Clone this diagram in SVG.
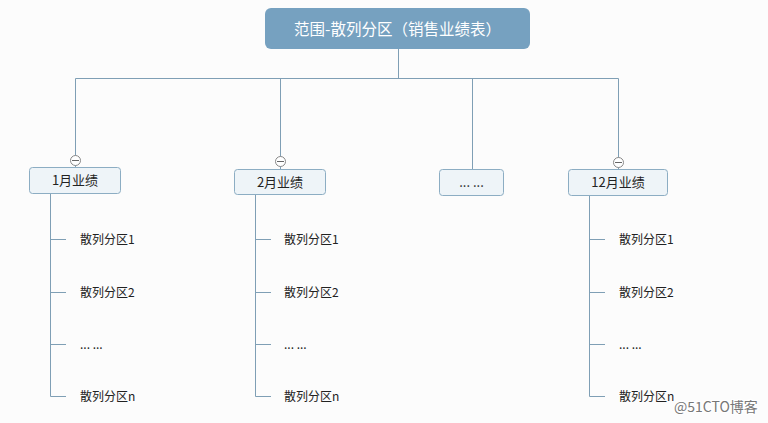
<svg xmlns="http://www.w3.org/2000/svg" width="768" height="423" viewBox="0 0 768 423">
<style>
.ln{stroke:#7f9fb5;stroke-width:1;fill:none}
.nd{fill:#eef4f8;stroke:#8cadc3;stroke-width:1}
.nt{font-family:"Noto Sans CJK SC","Liberation Sans",sans-serif;font-size:13px;fill:#222;text-anchor:middle}
.ct{font-family:"Noto Sans CJK SC","Liberation Sans",sans-serif;font-size:12px;fill:#222}
.cc{fill:#fff;stroke:#888;stroke-width:1}
</style>
<rect width="768" height="423" fill="#fcfcfc"/>
<g id="connectors">
<path class="ln" d="M398.5 49V78.5M75.5 78.5H618.5M75.5 78.5V167M280.5 78.5V169M472.5 78.5V169M618.5 78.5V169"/>
<path class="ln" d="M50.5 193V396.5H66M50.5 239.5H66M50.5 292.5H66M50.5 344.5H66"/>
<path class="ln" d="M255.5 194V396.5H271M255.5 239.5H271M255.5 292.5H271M255.5 344.5H271"/>
<path class="ln" d="M589.5 195V396.5H605M589.5 239.5H605M589.5 292.5H605M589.5 344.5H605"/>
</g>
<g id="root">
<rect x="265" y="8" width="265" height="41" rx="6" fill="#76a1c0"/>
<text x="397.5" y="34.5" font-family="'Noto Sans CJK SC','Liberation Sans',sans-serif" font-size="15.5" fill="#fff" text-anchor="middle">范围-散列分区（销售业绩表）</text>
</g>
<g id="n1">
<rect class="nd" x="29.5" y="167.5" width="91" height="26" rx="3"/>
<text class="nt" x="75" y="185">1月业绩</text>
<circle class="cc" cx="75.5" cy="160.5" r="5"/>
<path d="M72 160.5H79" stroke="#666"/>
</g>
<g id="n2">
<rect class="nd" x="234.5" y="169.5" width="91" height="25" rx="3"/>
<text class="nt" x="280" y="186.5">2月业绩</text>
<circle class="cc" cx="280.5" cy="161.5" r="5"/>
<path d="M277 161.5H284" stroke="#666"/>
</g>
<g id="n3">
<rect class="nd" x="439.5" y="169.5" width="64" height="26" rx="3"/>
<text class="nt" x="471.5" y="187">... ...</text>
</g>
<g id="n4">
<rect class="nd" x="568.5" y="169.5" width="99" height="26" rx="3"/>
<text class="nt" x="618" y="187">12月业绩</text>
<circle class="cc" cx="618.5" cy="162.5" r="5"/>
<path d="M615 162.5H622" stroke="#666"/>
</g>
<g id="c1">
<text class="ct" x="80" y="244">散列分区1</text>
<text class="ct" x="80" y="297">散列分区2</text>
<text class="ct" x="80" y="349">... ...</text>
<text class="ct" x="80" y="401">散列分区n</text>
</g>
<g id="c2">
<text class="ct" x="284" y="244">散列分区1</text>
<text class="ct" x="284" y="297">散列分区2</text>
<text class="ct" x="284" y="349">... ...</text>
<text class="ct" x="284" y="401">散列分区n</text>
</g>
<g id="c4">
<text class="ct" x="619" y="244">散列分区1</text>
<text class="ct" x="619" y="297">散列分区2</text>
<text class="ct" x="619" y="349">... ...</text>
<text class="ct" x="619" y="401">散列分区n</text>
</g>
<text x="674" y="412" font-family="'Noto Sans CJK SC','Liberation Sans',sans-serif" font-size="14" fill="#777" stroke="#fff" stroke-width="2.5" paint-order="stroke">@51CTO博客</text>
</svg>
